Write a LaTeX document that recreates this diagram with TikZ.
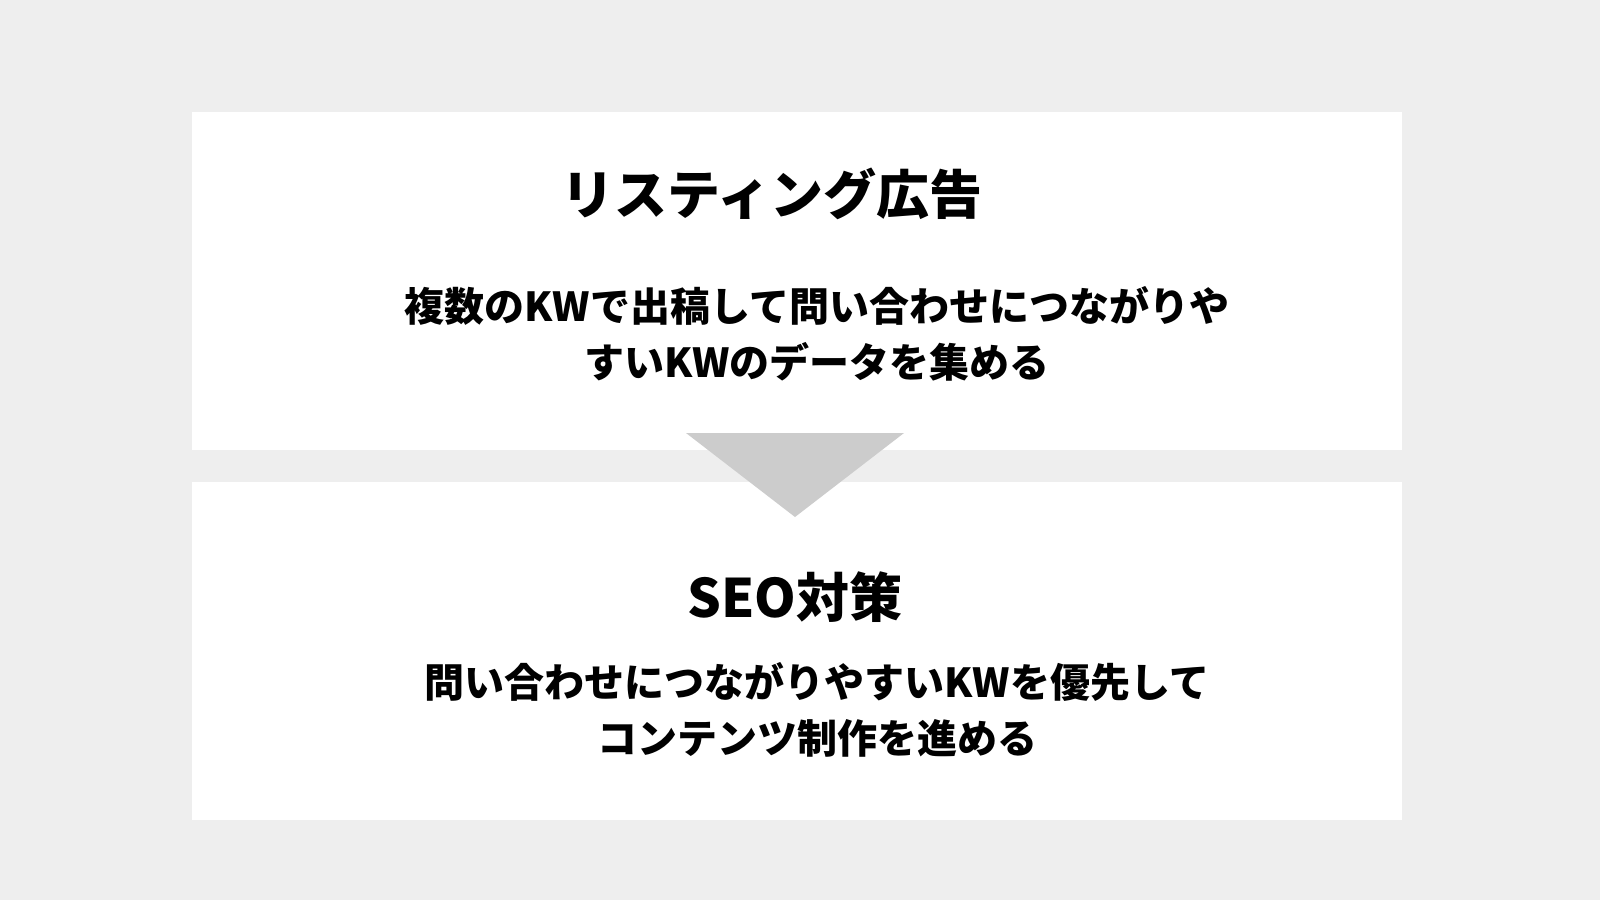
\documentclass[tikz,border=0pt]{standalone}
\usepackage{fontspec}
\newfontfamily\jp{Noto Sans CJK JP}
\definecolor{bgc}{HTML}{EEEEEE}
\definecolor{tric}{HTML}{CCCCCC}
\tikzset{
  panel/.style={fill=white, draw=none, minimum width=1210pt, minimum height=338pt, anchor=north west, inner sep=0pt},
  titletext/.style={font={\jp\bfseries\fontsize{53}{60}\selectfont}, text=black, inner sep=0pt, anchor=center},
  bodytext/.style={font={\jp\bfseries\fontsize{40}{56}\selectfont}, text=black, inner sep=0pt, align=center, anchor=center}
}
\begin{document}
\begin{tikzpicture}[x=1pt,y=-1pt]
\fill[bgc] (0,0) rectangle (1600,900);
\useasboundingbox (0,0) rectangle (1600,900);
\node[panel] (top) at (192,112) {};
\node[panel] (bottom) at (192,482) {};
\fill[tric] (686,433) -- (904,433) -- (795,517) -- cycle;
\node[titletext] (t1) at (772,194) {リスティング広告};
\node[bodytext] (b1) at (817,334) {複数のKWで出稿して問い合わせにつながりや\\すいKWのデータを集める};
\node[titletext] (t2) at (795,597) {SEO対策};
\node[bodytext] (b2) at (817,710) {問い合わせにつながりやすいKWを優先して\\コンテンツ制作を進める};
\end{tikzpicture}
\end{document}
